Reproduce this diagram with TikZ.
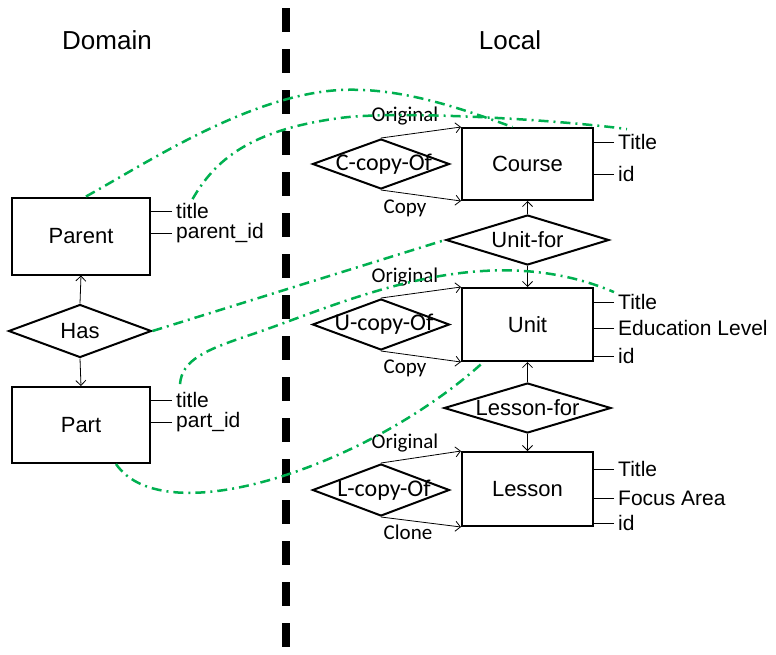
\documentclass[tikz,border=0pt]{standalone}
\usepackage{fontspec}
\setmainfont{Liberation Sans}
\newfontfamily\calibri{Carlito}
\usepackage{tikz}
\usetikzlibrary{positioning,arrows.meta,shapes.geometric}
\usepackage{xcolor}
\definecolor{mapgreen}{RGB}{0,176,80}

\tikzset{
    entity/.style={draw, line width=2pt, inner sep=0pt, font=\fontsize{22}{26}\selectfont},
    rel/.style={draw, diamond, line width=2pt, inner sep=0pt},
    reltext/.style={inner sep=0pt, font=\fontsize{22}{26}\selectfont},
    copytext/.style={inner sep=0pt, font=\calibri\fontsize{24}{28}\selectfont},
    attr/.style={anchor=west, inner xsep=4pt, inner ysep=0pt, font=\fontsize{21}{25}\selectfont},
    role/.style={inner sep=0pt, font=\calibri\fontsize{21}{25}\selectfont},
    side/.style={font=\fontsize{26}{30}\selectfont},
    isa/.style={-{Straight Barb[length=5pt,width=10pt]}, line width=0.8pt},
    mapping/.style={mapgreen, line width=2.5pt, dash pattern=on 10pt off 5pt on 2pt off 5pt},
    divider/.style={line width=7.5pt, dash pattern=on 24pt off 17pt}
}

\begin{document}
\begin{tikzpicture}[x=1pt, y=-1pt]
    \useasboundingbox (0,0) rectangle (776,654);

    % Domain / Local split
    \node[side] (domain) at (107,40) {Domain};
    \node[side] (local) at (510,40) {Local};
    \draw[divider] (286,8) -- (286,654);

    % Domain side
    \node[entity, minimum width=138pt, minimum height=77pt] (parent) at (81,236) {Parent};
    \node[rel, minimum width=143pt, minimum height=53pt, label={[reltext]center:Has}] (has) at (80,331) {};
    \node[entity, minimum width=138pt, minimum height=76pt] (part) at (81,425) {Part};
    \draw[isa] (has.north) -- (parent.south);
    \draw[isa] (has.south) -- (part.north);

    \node[attr] (ptitle) at (172,211) {title};
    \node[attr] (pid) at (172,233) {parent\_id};
    \node[attr] (qtitle) at (172,400) {title};
    \node[attr] (qid) at (172,422) {part\_id};
    \foreach \a/\e in {ptitle/parent, pid/parent, qtitle/part, qid/part}
        \draw[line width=0.8pt] (\a.west) -- (\a.west -| \e.east);

    % Local side
    \node[entity, minimum width=131pt, minimum height=72pt] (course) at (527.5,164) {Course};
    \node[rel, minimum width=163pt, minimum height=50pt, label={[reltext]center:Unit-for}] (unitfor) at (527.5,240) {};
    \node[entity, minimum width=131pt, minimum height=73pt] (unit) at (527.5,324.5) {Unit};
    \node[rel, minimum width=167pt, minimum height=50pt, label={[reltext]center:Lesson-for}] (lessonfor) at (527.5,408) {};
    \node[entity, minimum width=131pt, minimum height=74pt] (lesson) at (527.5,489) {Lesson};
    \draw[isa] (unitfor.north) -- (course.south);
    \draw[isa] (unitfor.south) -- (unit.north);
    \draw[isa] (lessonfor.north) -- (unit.south);
    \draw[isa] (lessonfor.south) -- (lesson.north);

    \node[rel, minimum width=137pt, minimum height=50pt, label={[copytext, xshift=3pt]center:C-copy-Of}] (ccopy) at (381,164) {};
    \node[rel, minimum width=137pt, minimum height=51pt, label={[copytext, xshift=3pt]center:U-copy-Of}] (ucopy) at (381,324.5) {};
    \node[rel, minimum width=137pt, minimum height=52pt, label={[copytext, xshift=3pt]center:L-copy-Of}] (lcopy) at (381,490) {};
    \draw[isa] (ccopy.north) -- (course.north west);
    \draw[isa] (ccopy.south) -- (course.south west);
    \draw[isa] (ucopy.north) -- (unit.north west);
    \draw[isa] (ucopy.south) -- (unit.south west);
    \draw[isa] (lcopy.north) -- (lesson.north west);
    \draw[isa] (lcopy.south) -- (lesson.south west);

    \node[role] (corig) at ([shift={(24,-22)}]ccopy.north) {Original};
    \node[role] (ccopyr) at ([shift={(24,18)}]ccopy.south) {Copy};
    \node[role] (uorig) at ([shift={(24,-21)}]ucopy.north) {Original};
    \node[role] (ucopyr) at ([shift={(24,17)}]ucopy.south) {Copy};
    \node[role] (lorig) at ([shift={(24,-20)}]lcopy.north) {Original};
    \node[role] (lclone) at ([shift={(27,15)}]lcopy.south) {Clone};

    \node[attr] (ctitle) at (614,142) {Title};
    \node[attr] (cid) at (614,174) {id};
    \node[attr] (utitle) at (614,302) {Title};
    \node[attr] (ulevel) at (614,328) {Education Level};
    \node[attr] (uid) at (614,356) {id};
    \node[attr] (ltitle) at (614,469) {Title};
    \node[attr] (lfocus) at (614,498) {Focus Area};
    \node[attr] (lid) at (614,523) {id};
    \foreach \a/\e in {ctitle/course, cid/course, utitle/unit, ulevel/unit, uid/unit,
                       ltitle/lesson, lfocus/lesson, lid/lesson}
        \draw[line width=0.8pt] (\a.west) -- (\a.west -| \e.east);

    % mappings
    \draw[mapping] ([xshift=5pt]parent.north) .. controls (150,161) and (250,95) .. (340,90)
        .. controls (400,87) and (460,108) .. ([xshift=-15pt]course.north);
    \draw[mapping] ([yshift=4pt]ptitle.north) .. controls (215,160) and (250,130) .. (340,118)
        .. controls (400,110) and (560,120) .. ([shift={(13,-5)}]ctitle.north west);
    \draw[mapping] (has.east) -- (unitfor.west);
    \draw[mapping] ([shift={(8,-8)}]qtitle.north west) .. controls (182,360) and (205,350) .. (250,335)
        .. controls (340,305) and (480,235) .. ([yshift=2pt]utitle.north west);
    \draw[mapping] ([xshift=35pt]part.south) .. controls (165,535) and (370,465) .. ([xshift=-44pt]unit.south);
\end{tikzpicture}
\end{document}
